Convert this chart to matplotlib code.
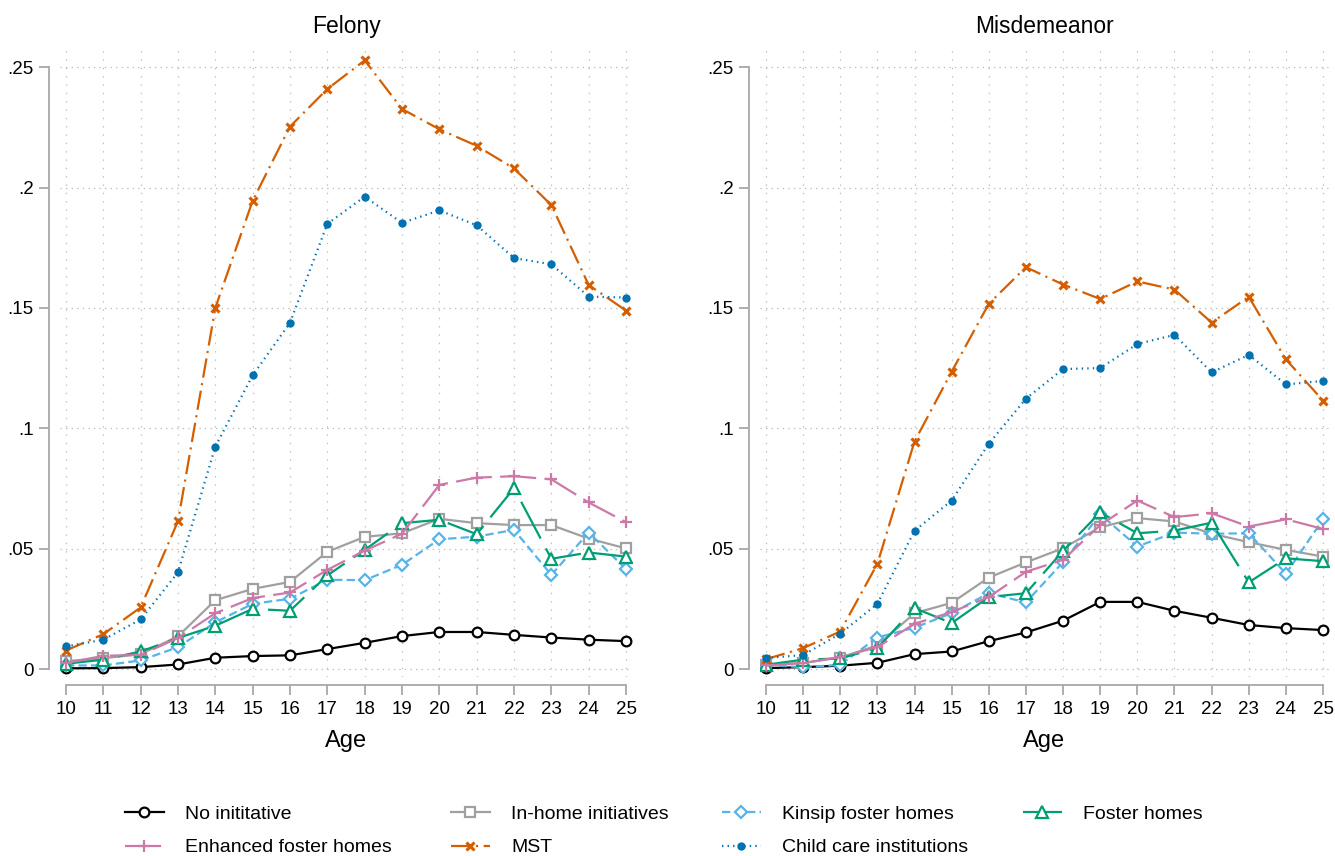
import numpy as np
import matplotlib
matplotlib.use("Agg")
import matplotlib.pyplot as plt
from matplotlib.lines import Line2D

plt.rcParams['font.family'] = ['Liberation Sans', 'DejaVu Sans']
plt.rcParams['lines.scale_dashes'] = False

ages = np.arange(10, 26)

# Felony
fel_none = [0.0003, 0.0004, 0.0008, 0.0019, 0.0047, 0.0054, 0.0057, 0.0083,
            0.0109, 0.0137, 0.0154, 0.0154, 0.0142, 0.0131, 0.0122, 0.0116]
fel_inhome = [0.0033, 0.0045, 0.0062, 0.0136, 0.0286, 0.0333, 0.0362, 0.0487,
              0.0549, 0.0564, 0.0624, 0.0606, 0.0598, 0.0598, 0.0542, 0.0501]
fel_kin = [0.0015, 0.0015, 0.0036, 0.0091, 0.0194, 0.0271, 0.0292, 0.0371,
           0.0369, 0.0433, 0.0539, 0.0550, 0.0578, 0.0391, 0.0567, 0.0415]
fel_foster = [0.0022, 0.0039, 0.0073, 0.0129, 0.0180, 0.0250, 0.0242, 0.0389,
              0.0495, 0.0606, 0.0620, 0.0560, 0.0751, 0.0458, 0.0484, 0.0467]
fel_enh = [0.0025, 0.0055, 0.0059, 0.0129, 0.0232, 0.0295, 0.0318, 0.0412,
           0.0492, 0.0562, 0.0765, 0.0795, 0.0801, 0.0788, 0.0692, 0.0610]
fel_mst = [0.0077, 0.0145, 0.0256, 0.0614, 0.1500, 0.1945, 0.2253, 0.2409,
           0.2528, 0.2326, 0.2242, 0.2173, 0.2079, 0.1927, 0.1595, 0.1489]
fel_cci = [0.0094, 0.0122, 0.0206, 0.0402, 0.0924, 0.1220, 0.1438, 0.1849,
           0.1962, 0.1853, 0.1905, 0.1843, 0.1707, 0.1681, 0.1547, 0.1543]

# Misdemeanor
mis_none = [0.0004, 0.0008, 0.0014, 0.0026, 0.0062, 0.0073, 0.0116, 0.0152,
            0.0201, 0.0279, 0.0279, 0.0242, 0.0213, 0.0183, 0.0170, 0.0162]
mis_inhome = [0.0018, 0.0025, 0.0048, 0.0098, 0.0232, 0.0275, 0.0380, 0.0443,
              0.0502, 0.0589, 0.0627, 0.0613, 0.0562, 0.0527, 0.0495, 0.0467]
mis_kin = [0.0018, 0.0007, 0.0018, 0.0131, 0.0172, 0.0232, 0.0315, 0.0277,
           0.0444, 0.0643, 0.0509, 0.0567, 0.0562, 0.0564, 0.0396, 0.0622]
mis_foster = [0.0018, 0.0039, 0.0044, 0.0087, 0.0253, 0.0191, 0.0299, 0.0315,
              0.0491, 0.0651, 0.0564, 0.0575, 0.0608, 0.0360, 0.0460, 0.0448]
mis_enh = [0.0015, 0.0025, 0.0050, 0.0091, 0.0188, 0.0237, 0.0299, 0.0404,
           0.0454, 0.0598, 0.0700, 0.0631, 0.0647, 0.0592, 0.0622, 0.0582]
mis_mst = [0.0041, 0.0087, 0.0156, 0.0437, 0.0945, 0.1235, 0.1517, 0.1669,
           0.1597, 0.1537, 0.1610, 0.1576, 0.1439, 0.1546, 0.1286, 0.1115]
mis_cci = [0.0046, 0.0058, 0.0147, 0.0271, 0.0574, 0.0700, 0.0936, 0.1123,
           0.1246, 0.1250, 0.1350, 0.1388, 0.1232, 0.1305, 0.1182, 0.1197]

labels = ['No inititative', 'In-home initiatives', 'Kinsip foster homes', 'Foster homes',
          'Enhanced foster homes', 'MST', 'Child care institutions']

styles = [
    dict(color='black', ls='-', marker='o', ms=7, mfc='white', mew=1.6),
    dict(color='#A0A0A0', ls='-', marker='s', ms=7, mfc='white', mew=1.6),
    dict(color='#56B4E9', dashes=(6, 3), marker='D', ms=6.5, mfc='white', mew=1.6),
    dict(color='#009E73', dashes=(30, 8), marker='^', ms=8, mfc='white', mew=1.6),
    dict(color='#CC79A7', dashes=(26, 6), marker='+', ms=9, mew=1.6),
    dict(color='#D55E00', dashes=(14, 4, 1.5, 4), marker='x', ms=5.5, mew=2.2),
    dict(color='#0072B2', dashes=(1, 3), marker='o', ms=6, mfc='#0072B2', mew=0),
]

panels = [
    ('Felony', [fel_none, fel_inhome, fel_kin, fel_foster, fel_enh, fel_mst, fel_cci],
     [60 / 1335, 0.2091, 572 / 1335, 0.7350]),
    ('Misdemeanor', [mis_none, mis_inhome, mis_kin, mis_foster, mis_enh, mis_mst, mis_cci],
     [760 / 1335, 0.2091, 569 / 1335, 0.7350]),
]

fig = plt.figure(figsize=(13.35, 8.56), dpi=100)
gcol = '#A8A8A8'

for title, series, rect in panels:
    ax = fig.add_axes(rect)
    for y, st in zip(series, styles):
        ax.plot(ages, y, lw=1.6, **st)
    ax.set_xlim(9.84, 25.16)
    ax.set_ylim(-0.0033, 0.258)
    ax.set_xticks(ages)
    ax.set_yticks([0, .05, .1, .15, .2, .25])
    ax.set_yticklabels(['0', '.05', '.1', '.15', '.2', '.25'])
    ax.xaxis.grid(True, color='#BDBDBD', lw=0.9, ls=(0, (1, 5)))
    ax.yaxis.grid(True, color='#BDBDBD', lw=0.9, ls=(0, (1, 3)))
    ax.set_axisbelow(True)
    for s in ['top', 'right']:
        ax.spines[s].set_visible(False)
    ax.spines['left'].set_position(('outward', 8))
    ax.spines['bottom'].set_position(('outward', 6))
    ax.spines['left'].set_bounds(0, 0.25)
    ax.spines['bottom'].set_bounds(10, 25)
    for s in ['left', 'bottom']:
        ax.spines[s].set_color(gcol)
        ax.spines[s].set_linewidth(1.3)
    ax.tick_params(axis='both', colors=gcol, length=7, width=1.3, labelsize=13.5,
                   labelcolor='black', pad=4)
    ax.set_xlabel('Age', fontsize=17, labelpad=9)
    ax.set_title(title, fontsize=16.5, pad=11)

handles = [Line2D([], [], lw=1.6, **st) for st in styles]
cols = [[0, 4], [1, 5], [2, 6], [3]]
xpos = [125, 451, 722, 1023]
for idx, x in zip(cols, xpos):
    fig.legend([handles[i] for i in idx], [labels[i] for i in idx],
               loc='upper left', bbox_to_anchor=(x / 1335, 0.0596), frameon=False,
               fontsize=14, handlelength=2.0, handletextpad=1.1, borderpad=0,
               borderaxespad=0, labelspacing=0.83)

fig.savefig('out.png', dpi=100)
